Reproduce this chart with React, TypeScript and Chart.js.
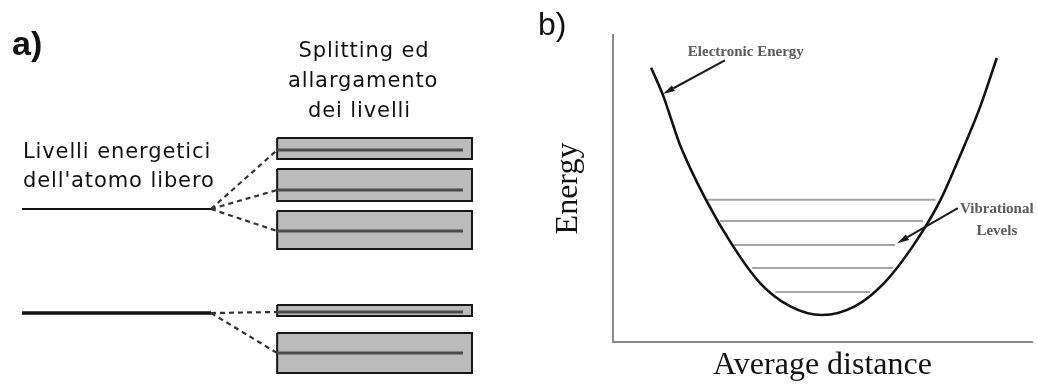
import React, { useEffect, useRef } from "react";
import { Chart, registerables } from "chart.js";

Chart.register(...registerables);

// ---- Panel a: levels of the free atom and the bands they split into ----
const atomLevels = [6.84, 2.68];
const bandTops = [9.68, 8.44, 6.76, 3.0, 1.88];
const bandBottoms = [8.84, 7.16, 5.24, 2.56, 0.28];
const bandLevels = [9.2, 7.6, 5.96, 2.72, 1.08];
const bandParents = [0, 0, 0, 1, 1];

// ---- Panel b: electronic energy well and its vibrational levels ----
const wellDistance = [0.91, 1.19, 1.6, 2.22, 2.86, 3.51, 4.22, 4.99, 5.78, 6.47, 7.14, 7.78, 8.28, 8.76, 9.16];
const wellEnergy = [8.93, 8.05, 6.42, 4.63, 3.13, 1.92, 1.17, 0.88, 1.17, 1.92, 3.09, 4.53, 6.06, 7.65, 9.25];
const vibEnergies = [4.63, 3.94, 3.16, 2.41, 1.63];
const vibLeft = [2.25, 2.55, 2.86, 3.32, 3.87];
const vibRight = [7.7, 7.4, 6.73, 6.68, 6.13];

// horizontal extents used by panel a (x units of that panel)
const ATOM_X = [0, 4.2];
const BAND_X = [5.67, 10];
const BAND_LINE_END = 9.8;

type TextItem = {
  text: string;
  x: number;
  y: number;
  font: string;
  color: string;
  align: CanvasTextAlign;
  spacing?: number;
};
type ArrowItem = { from: [number, number]; to: [number, number]; color: string };

function annotations(texts: TextItem[], arrows: ArrowItem[]) {
  return {
    id: "annotations",
    afterDraw(chart: any) {
      const { ctx } = chart;
      const sx = chart.scales.x;
      const sy = chart.scales.y;
      ctx.save();
      for (const a of arrows) {
        const x0 = sx.getPixelForValue(a.from[0]);
        const y0 = sy.getPixelForValue(a.from[1]);
        const x1 = sx.getPixelForValue(a.to[0]);
        const y1 = sy.getPixelForValue(a.to[1]);
        const ang = Math.atan2(y1 - y0, x1 - x0);
        const head = 12;
        const half = 3.2;
        const bx = x1 - head * Math.cos(ang);
        const by = y1 - head * Math.sin(ang);
        ctx.strokeStyle = a.color;
        ctx.lineWidth = 2;
        ctx.beginPath();
        ctx.moveTo(x0, y0);
        ctx.lineTo(bx, by);
        ctx.stroke();
        ctx.fillStyle = a.color;
        ctx.beginPath();
        ctx.moveTo(x1, y1);
        ctx.lineTo(bx + half * Math.sin(ang), by - half * Math.cos(ang));
        ctx.lineTo(bx - half * Math.sin(ang), by + half * Math.cos(ang));
        ctx.closePath();
        ctx.fill();
      }
      for (const t of texts) {
        ctx.font = t.font;
        ctx.fillStyle = t.color;
        ctx.textAlign = t.align;
        ctx.textBaseline = "alphabetic";
        (ctx as any).letterSpacing = `${t.spacing ?? 0}px`;
        ctx.fillText(t.text, sx.getPixelForValue(t.x), sy.getPixelForValue(t.y));
      }
      (ctx as any).letterSpacing = "0px";
      ctx.restore();
    },
  };
}

const hand = '21px "DejaVu Sans"';

function PanelA() {
  const ref = useRef<HTMLCanvasElement>(null);
  useEffect(() => {
    if (!ref.current) return;
    const line = (pts: { x: number; y: number }[], extra: any) => ({
      data: pts,
      pointRadius: 0,
      tension: 0,
      fill: false,
      clip: false,
      ...extra,
    });
    const inner = bandLevels.map((e) =>
      line([{ x: BAND_X[0], y: e }, { x: BAND_LINE_END, y: e }], { borderColor: "#4b4b4b", borderWidth: 2.8 })
    );
    const connectors = bandLevels.map((e, i) =>
      line(
        [
          { x: ATOM_X[1], y: atomLevels[bandParents[i]] },
          { x: BAND_X[0], y: e },
        ],
        { borderColor: "#333", borderWidth: 2.2, borderDash: [5, 4] }
      )
    );
    const atoms = atomLevels.map((e, i) =>
      line([{ x: ATOM_X[0], y: e }, { x: ATOM_X[1], y: e }], { borderColor: "#111", borderWidth: i === 0 ? 2 : 3.5 })
    );
    const bands = bandTops.map((top, i) =>
      line(
        [
          { x: BAND_X[0], y: top },
          { x: BAND_X[1], y: top },
          { x: BAND_X[1], y: bandBottoms[i] },
          { x: BAND_X[0], y: bandBottoms[i] },
          { x: BAND_X[0], y: top },
        ],
        { borderColor: "#161616", borderWidth: 2, backgroundColor: "#bbbbbb", fill: "shape" }
      )
    );
    const texts: TextItem[] = [
      { text: "a)", x: -0.22, y: 13.0, font: 'bold 34px "Liberation Sans"', color: "#111", align: "left" },
      { text: "Splitting ed", x: 7.6, y: 12.92, font: hand, color: "#111", align: "center", spacing: 0.9 },
      { text: "allargamento", x: 7.58, y: 11.72, font: hand, color: "#111", align: "center", spacing: 0.9 },
      { text: "dei livelli", x: 7.5, y: 10.52, font: hand, color: "#111", align: "center", spacing: 0.9 },
      { text: "Livelli energetici", x: 0.02, y: 8.88, font: hand, color: "#111", align: "left", spacing: 0.9 },
      { text: "dell'atomo libero", x: 0.02, y: 7.72, font: hand, color: "#111", align: "left", spacing: 0.9 },
    ];
    const chart = new Chart(ref.current, {
      type: "line",
      data: { datasets: [...inner, ...connectors, ...atoms, ...bands] as any },
      options: {
        animation: false,
        responsive: false,
        events: [],
        layout: { padding: { left: 22, right: 48, top: 130, bottom: 5 } },
        plugins: { legend: { display: false }, tooltip: { enabled: false } },
        scales: {
          x: { type: "linear", min: 0, max: 10, display: false },
          y: { type: "linear", min: 0, max: 10, display: false },
        },
      },
      plugins: [annotations(texts, [])],
    } as any);
    return () => chart.destroy();
  }, []);
  return <canvas ref={ref} width={520} height={385} />;
}

function PanelB() {
  const ref = useRef<HTMLCanvasElement>(null);
  useEffect(() => {
    if (!ref.current) return;
    const well = {
      data: wellDistance.map((x, i) => ({ x, y: wellEnergy[i] })),
      borderColor: "#111",
      borderWidth: 2.6,
      pointRadius: 0,
      cubicInterpolationMode: "monotone",
      fill: false,
    };
    const levels = vibEnergies.map((e, i) => ({
      data: [
        { x: vibLeft[i], y: e },
        { x: vibRight[i], y: e },
      ],
      borderColor: "#a3a3a3",
      borderWidth: 2,
      pointRadius: 0,
      fill: false,
    }));
    const note = 'bold 15px "Liberation Serif"';
    const texts: TextItem[] = [
      { text: "b)", x: -1.79, y: 10.0, font: '32px "Liberation Sans"', color: "#111", align: "left" },
      { text: "Electronic Energy", x: 3.17, y: 9.3, font: note, color: "#5a5a5a", align: "center" },
      { text: "Vibrational", x: 9.16, y: 4.2, font: note, color: "#5a5a5a", align: "center" },
      { text: "Levels", x: 9.16, y: 3.49, font: note, color: "#5a5a5a", align: "center" },
    ];
    const arrows: ArrowItem[] = [
      { from: [2.67, 9.17], to: [1.19, 8.08], color: "#1a1a1a" },
      { from: [8.23, 4.36], to: [6.78, 3.22], color: "#1a1a1a" },
    ];
    const axisTitleFont = { family: '"Liberation Serif"', size: 32, weight: "normal" };
    const chart = new Chart(ref.current, {
      type: "line",
      data: { datasets: [well, ...levels] as any },
      options: {
        animation: false,
        responsive: false,
        events: [],
        layout: { padding: { left: 20, right: 5, top: 35, bottom: 0 } },
        plugins: { legend: { display: false }, tooltip: { enabled: false } },
        scales: {
          x: {
            type: "linear",
            min: 0,
            max: 10,
            grid: { display: false, drawTicks: false },
            ticks: { display: false },
            border: { display: true, color: "#8a8a8a", width: 2 },
            title: {
              display: true,
              text: "Average distance",
              color: "#111",
              font: axisTitleFont,
              padding: { top: 4.6, bottom: 0 },
            },
          },
          y: {
            type: "linear",
            min: 0,
            max: 10,
            grid: { display: false, drawTicks: false },
            ticks: { display: false },
            border: { display: true, color: "#8a8a8a", width: 2 },
            title: {
              display: true,
              text: "Energy",
              color: "#111",
              font: axisTitleFont,
              padding: { top: 9.8, bottom: 24.8 },
            },
          },
        },
      },
      plugins: [annotations(texts, arrows)],
    } as any);
    return () => chart.destroy();
  }, []);
  return <canvas ref={ref} width={517} height={385} />;
}

export default function App() {
  return (
    <div
      style={{
        position: "absolute",
        left: 0,
        top: 0,
        width: 1037,
        height: 385,
        background: "#fff",
        overflow: "hidden",
      }}
    >
      <div style={{ position: "absolute", left: 0, top: 0, width: 520, height: 385 }}>
        <PanelA />
      </div>
      <div style={{ position: "absolute", left: 520, top: 0, width: 517, height: 385 }}>
        <PanelB />
      </div>
    </div>
  );
}
